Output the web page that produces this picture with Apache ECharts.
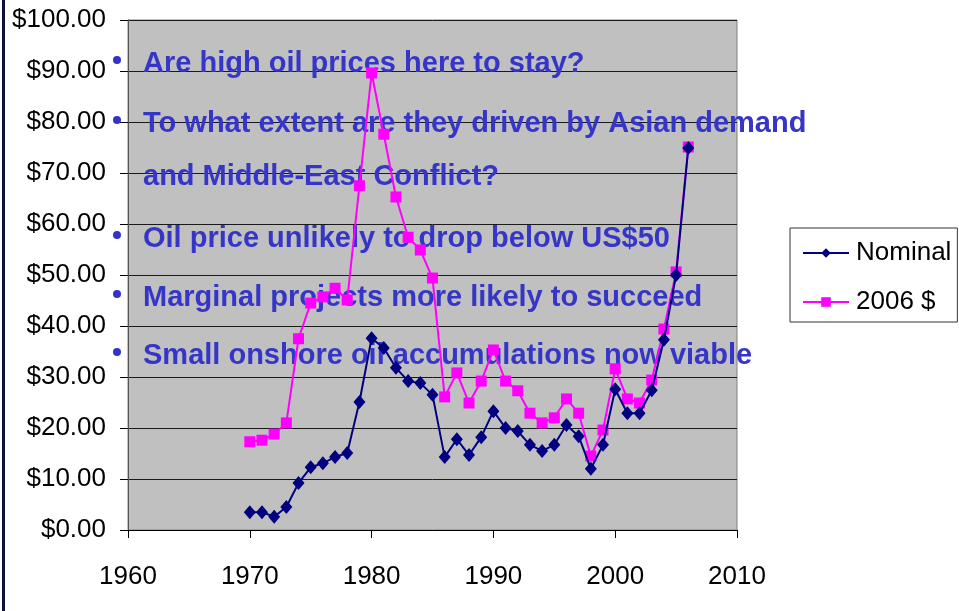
<!DOCTYPE html>
<html><head><meta charset="utf-8">
<script src="https://cdn.jsdelivr.net/npm/echarts@6/dist/echarts.min.js"></script>
<style>html,body{margin:0;padding:0;background:#fff}#c{width:959px;height:611px}</style>
</head><body><div id="c"></div>
<script>
const years = [1970,1971,1972,1973,1974,1975,1976,1977,1978,1979,1980,1981,1982,1983,1984,1985,1986,1987,1988,1989,1990,1991,1992,1993,1994,1995,1996,1997,1998,1999,2000,2001,2002,2003,2004,2005,2006];
const nominal = [3.5,3.5,2.6,4.5,9.2,12.3,13.1,14.3,15.1,25.1,37.6,35.7,31.8,29.2,28.8,26.5,14.3,17.8,14.7,18.2,23.3,20.0,19.4,16.7,15.5,16.7,20.6,18.4,12.0,16.7,27.6,22.9,22.9,27.4,37.3,50.0,74.9];
const real2006 = [17.3,17.6,18.8,21.0,37.5,44.5,45.7,47.4,45.1,67.5,89.6,77.6,65.3,57.4,54.9,49.4,26.1,30.8,24.9,29.2,35.3,29.2,27.3,22.9,21.0,22.0,25.7,22.9,14.5,19.6,31.6,25.7,24.9,29.4,39.4,50.6,75.1];
const seriesNames = ['Nominal','2006 $'];
const bullets = [
  {t:'Are high oil prices here to stay?', b:true, y:64},
  {t:'To what extent are they driven by Asian demand', b:true, y:124},
  {t:'and Middle-East Conflict?', b:false, y:177},
  {t:'Oil price unlikely to drop below US$50', b:true, y:239},
  {t:'Marginal projects more likely to succeed', b:true, y:298},
  {t:'Small onshore oil accumulations now viable', b:true, y:356}
];
const FONT = '"Liberation Sans", Arial, sans-serif';
const chart = echarts.init(document.getElementById('c'));
const graphics = [
  {type:'rect', shape:{x:2,y:0,width:3,height:611}, style:{fill:'#10103a'}, z:1}
];
bullets.forEach(o=>{
  if(o.b) graphics.push({type:'circle', shape:{cx:117,cy:o.y-4,r:4}, style:{fill:'#3333CC'}, z:5});
  graphics.push({type:'text', x:143, y:o.y, style:{text:o.t, fill:'#3535C8', font:'bold 29px ' + FONT, textVerticalAlign:'middle'}, z:1});
});
chart.setOption({
  animation:false,
  backgroundColor:'#fff',
  grid:{left:128, right:222, top:20, bottom:81, show:true, backgroundColor:'#C0C0C0', borderWidth:1, borderColor:'#808080'},
  xAxis:{type:'value', min:1960, max:2010, interval:10,
    axisLine:{show:true, onZero:false, lineStyle:{color:'#000', width:1}},
    axisTick:{show:true, inside:false, length:8, lineStyle:{color:'#000'}},
    axisLabel:{color:'#000', fontSize:26, fontFamily:FONT, margin:34, formatter:v=>String(v)},
    splitLine:{show:false}},
  yAxis:{type:'value', min:0, max:100, interval:10,
    axisLine:{show:true, lineStyle:{color:'#555', width:1}},
    axisTick:{show:true, length:8, lineStyle:{color:'#000'}},
    axisLabel:{color:'#000', fontSize:26, fontFamily:FONT, margin:22, formatter:v=>'$'+v.toFixed(2)},
    splitLine:{show:true, lineStyle:{color:'#1a1a1a', width:1}}},
  legend:{left:790, top:228, orient:'vertical', itemWidth:46, itemHeight:12, itemGap:23,
    padding:[12,6,7,12], borderColor:'#333', borderWidth:1, backgroundColor:'#fff',
    textStyle:{color:'#000', fontSize:26, fontFamily:FONT, padding:[0,0,0,2]},
    data:seriesNames},
  graphic:graphics,
  series:[
    {name:seriesNames[1], type:'line', data:years.map((y,i)=>[y,real2006[i]]), color:'#FF00FF',
      lineStyle:{width:2, color:'#FF00FF'}, symbol:'rect', symbolSize:11, itemStyle:{color:'#FF00FF'}, z:3},
    {name:seriesNames[0], type:'line', data:years.map((y,i)=>[y,nominal[i]]), color:'#000080',
      lineStyle:{width:2, color:'#000080'}, symbol:'diamond', symbolSize:[12,14], itemStyle:{color:'#000080'}, z:4}
  ]
});
</script></body></html>
